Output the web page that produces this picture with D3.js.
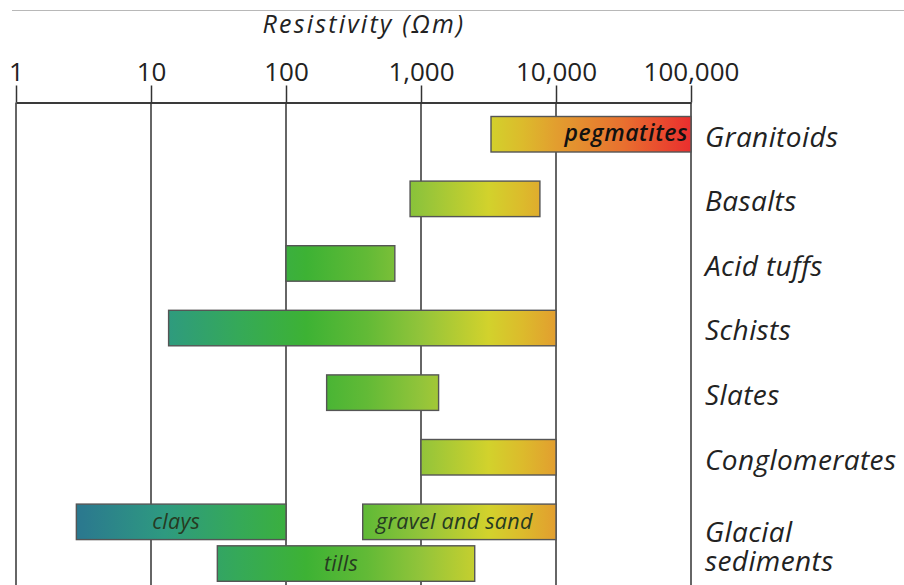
<!DOCTYPE html>
<html><head><meta charset="utf-8">
<script src="https://cdn.jsdelivr.net/npm/d3@7"></script>
<style>
html,body{margin:0;padding:0;background:#fff;}
svg{display:block;}
text{font-family:"Open Sans",sans-serif;}
</style></head>
<body>
<svg id="chart" width="904" height="585"></svg>
<script>
// ---- data ----
const tickValues = [1, 10, 100, 1000, 10000, 100000];
const tickLabels = ["1", "10", "100", "1,000", "10,000", "100,000"];
const categories = ["Granitoids", "Basalts", "Acid tuffs", "Schists", "Slates", "Conglomerates", "Glacial sediments"];
const barCategory = ["Granitoids", "Basalts", "Acid tuffs", "Schists", "Slates", "Conglomerates", "Glacial sediments", "Glacial sediments", "Glacial sediments"];
const barLane = [0, 0, 0, 0, 0, 0, 0, 0, 1];
const barLow = [3300, 830, 100, 13.5, 200, 1000, 2.8, 370, 31];
const barHigh = [100000, 7600, 640, 10000, 1350, 10000, 100, 10000, 2500];
const barText = ["pegmatites", "", "", "", "", "", "clays", "gravel and sand", "tills"];
const titleText = "Resistivity (\u03A9m)";

// ---- layout ----
const svg = d3.select("#chart");
const x = d3.scaleLog().domain([1, 100000]).range([16, 691]);
const y = d3.scaleBand().domain(categories).range([116.5, 116.5 + 64.6 * 7]).paddingInner(0).paddingOuter(0);
const barH = 35.5;
const laneOffset = 41.7;

// gradient along x in user space
const defs = svg.append("defs");
const grad = defs.append("linearGradient").attr("id", "resGrad")
  .attr("gradientUnits", "userSpaceOnUse")
  .attr("x1", x(1)).attr("x2", x(100000)).attr("y1", 0).attr("y2", 0);
const stops = [
  [0.00, "#2a6a90"], [0.10, "#2b7a8e"], [0.22, "#2e9a80"], [0.33, "#35a958"],
  [0.43, "#3db234"], [0.52, "#62ba36"], [0.60, "#92c43a"], [0.70, "#d2d22c"],
  [0.75, "#dcbb2c"], [0.80, "#e29e2f"], [0.90, "#e8702f"], [1.00, "#ea2e2e"]
];
grad.selectAll("stop").data(stops).join("stop")
  .attr("offset", d => d[0]).attr("stop-color", d => d[1]);

// top thin line
svg.append("line").attr("x1", 12).attr("x2", 904).attr("y1", 10.5).attr("y2", 10.5)
  .attr("stroke", "#b8b8b8").attr("stroke-width", 1);

// title
svg.append("text").attr("x", 364).attr("y", 33).attr("text-anchor", "middle")
  .attr("font-size", 25).attr("font-style", "italic").attr("fill", "#222")
  .attr("letter-spacing", 2.2).text(titleText);

// axis via d3.axisTop
const axis = d3.axisTop(x).tickValues(tickValues)
  .tickFormat((d, i) => tickLabels[i]).tickSize(17).tickPadding(5).tickSizeOuter(0);
const gAxis = svg.append("g").attr("transform", "translate(0,102.5)").call(axis);
gAxis.select(".domain").attr("stroke", "#3a3a3a").attr("stroke-width", 2.2);
gAxis.selectAll(".tick line").attr("stroke", "#333").attr("stroke-width", 1.5);
gAxis.selectAll(".tick text").attr("font-size", 26).attr("fill", "#222")
  .attr("font-family", "'Open Sans',sans-serif");

// grid lines
svg.append("g").selectAll("line").data(tickValues).join("line")
  .attr("x1", d => x(d)).attr("x2", d => x(d)).attr("y1", 102.5).attr("y2", 585)
  .attr("stroke", "#333").attr("stroke-width", 1.5);

// bars
const bars = barLow.map((lo, i) => ({lo, hi: barHigh[i], cat: barCategory[i], lane: barLane[i], text: barText[i]}));
const barY = d => y(d.cat) + d.lane * laneOffset;
svg.append("g").selectAll("rect").data(bars).join("rect")
  .attr("x", d => x(d.lo)).attr("y", barY)
  .attr("width", d => x(d.hi) - x(d.lo)).attr("height", barH)
  .attr("fill", "url(#resGrad)").attr("stroke", "#555").attr("stroke-width", 1.4);

// bar texts
svg.append("g").selectAll("text").data(bars.filter(d => d.text)).join("text")
  .attr("x", d => d.text === "pegmatites" ? x(d.hi) - 3 : (x(d.lo) + x(d.hi)) / 2 - 5)
  .attr("y", d => barY(d) + barH / 2 + 7)
  .attr("text-anchor", d => d.text === "pegmatites" ? "end" : "middle")
  .attr("font-size", d => d.text === "pegmatites" ? 23 : 21.5)
  .attr("font-style", "italic")
  .attr("font-weight", d => d.text === "pegmatites" ? 600 : 400)
  .attr("letter-spacing", d => d.text === "pegmatites" ? 0.6 : 0.3)
  .attr("fill", d => d.text === "pegmatites" ? "#111" : "#263a22")
  .text(d => d.text);

// category labels
const lab = svg.append("g").selectAll("text").data(categories).join("text")
  .attr("x", 705).attr("font-size", 28).attr("font-style", "italic").attr("fill", "#222")
  .attr("letter-spacing", 0.4);
lab.each(function(d) {
  const t = d3.select(this);
  const words = d.split(" ");
  if (d === "Glacial sediments") {
    t.attr("y", y(d) + 38);
    t.append("tspan").attr("x", 705).text(words[0]);
    t.append("tspan").attr("x", 705).attr("dy", 29).text(words[1]);
  } else {
    t.attr("y", y(d) + 30).text(d);
  }
});
</script>
</body></html>
